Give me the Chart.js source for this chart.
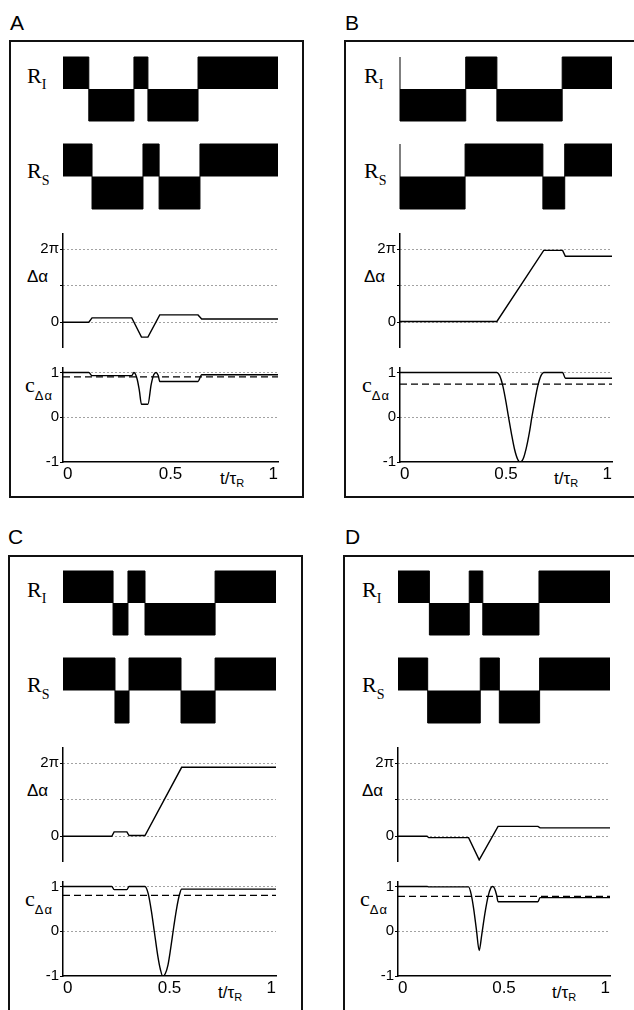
<!DOCTYPE html>
<html>
<head>
<meta charset="utf-8">
<script src="https://cdn.jsdelivr.net/npm/chart.js@4.4.1/dist/chart.umd.min.js"></script>
<style>
  body { margin: 0; background: #fff; }
  #fig { position: relative; width: 634px; height: 1010px; overflow: hidden; background: #fff; }
  #fig canvas { position: absolute; }
  .box { position: absolute; border: 2px solid #111; box-sizing: border-box; }
  .lbl { position: absolute; line-height: 1; white-space: nowrap; color: #000; }
  .sans { font-family: "Liberation Sans", Arial, sans-serif; }
  .serif { font-family: "Liberation Serif", "Times New Roman", serif; }
  .sub { position: relative; }
</style>
</head>
<body>
<div id="fig"></div>
<script>
// switching times (t/tau_R) of the two rotations R_I and R_S, state after each switch
const riTimesA = [0, 0.12, 0.33, 0.395, 0.628];
const rsTimesA = [0, 0.135, 0.372, 0.447, 0.637];
const riTimesB = [0, 0, 0.31, 0.457, 0.765];
const rsTimesB = [0, 0, 0.307, 0.674, 0.777];
const riTimesC = [0, 0.235, 0.305, 0.385, 0.714];
const rsTimesC = [0, 0.244, 0.31, 0.554, 0.714];
const riTimesD = [0, 0.148, 0.336, 0.40, 0.665];
const rsTimesD = [0, 0.14, 0.388, 0.478, 0.668];
const stepStates = [1, -1, 1, -1, 1];

// phase difference delta alpha, in units of pi
const daTimeA = [0, 0.12, 0.135, 0.32, 0.365, 0.395, 0.45, 0.628, 0.645, 1];
const daValA  = [0, 0, 0.12, 0.12, -0.41, -0.41, 0.2, 0.2, 0.09, 0.09];
const daTimeB = [0, 0.457, 0.678, 0.767, 0.78, 1];
const daValB  = [0.02, 0.02, 1.97, 1.97, 1.81, 1.81];
const daTimeC = [0, 0.229, 0.24, 0.3, 0.31, 0.385, 0.557, 1];
const daValC  = [0, 0, 0.12, 0.12, 0.02, 0.02, 1.89, 1.89];
const daTimeD = [0, 0.137, 0.145, 0.333, 0.383, 0.472, 0.66, 0.67, 1];
const daValD  = [0, 0, -0.04, -0.04, -0.65, 0.27, 0.27, 0.23, 0.23];

// c_delta alpha
const cTimeA = [0, 0.12, 0.135, 0.32, 0.33, 0.345, 0.355, 0.365, 0.395, 0.41, 0.422, 0.433, 0.443, 0.45, 0.628, 0.645, 1];
const cValA  = [1, 1, 0.93, 0.93, 1, 0.85, 0.6, 0.29, 0.29, 0.73, 0.95, 1, 0.93, 0.8, 0.8, 0.95, 0.95];
const cTimeB = [0, 0.457, 0.47, 0.485, 0.5, 0.512, 0.525, 0.54, 0.555, 0.566, 0.58, 0.595, 0.61, 0.622, 0.635, 0.65, 0.665, 0.678, 0.767, 0.78, 1];
const cValB  = [1, 1, 0.93, 0.7, 0.34, 0, -0.35, -0.71, -0.94, -1, -0.94, -0.7, -0.35, 0, 0.34, 0.7, 0.93, 1, 1, 0.87, 0.87];
const cTimeC = [0, 0.229, 0.24, 0.3, 0.31, 0.385, 0.4, 0.415, 0.43, 0.445, 0.457, 0.468, 0.48, 0.493, 0.505, 0.52, 0.535, 0.547, 0.557, 1];
const cValC  = [1, 1, 0.93, 0.93, 1, 1, 0.84, 0.45, -0.05, -0.55, -0.85, -1, -0.95, -0.75, -0.4, 0.1, 0.55, 0.82, 0.94, 0.94];
const cTimeD = [0, 0.137, 0.145, 0.333, 0.345, 0.357, 0.37, 0.383, 0.395, 0.41, 0.425, 0.438, 0.446, 0.455, 0.465, 0.472, 0.66, 0.67, 1];
const cValD  = [1, 1, 0.99, 0.99, 0.83, 0.5, 0.03, -0.43, -0.08, 0.4, 0.78, 0.97, 1, 0.96, 0.81, 0.66, 0.66, 0.75, 0.75];
const cMean = [0.9, 0.74, 0.8, 0.78];

const panelNames = ["A", "B", "C", "D"];
const daTicks = [0, 1, 2];
const daTickLabels = ["0", "", "2\u03c0"];
const cTicks = [-1, 0, 1];
const cTickLabels = ["-1", "0", "1"];
const tTicks = [0, 0.5, 1];
const tTickLabels = ["0", "0.5", "1"];

const riTimes = [riTimesA, riTimesB, riTimesC, riTimesD];
const rsTimes = [rsTimesA, rsTimesB, rsTimesC, rsTimesD];
const daTimes = [daTimeA, daTimeB, daTimeC, daTimeD];
const daVals = [daValA, daValB, daValC, daValD];
const cTimes = [cTimeA, cTimeB, cTimeC, cTimeD];
const cVals = [cValA, cValB, cValC, cValD];

// page layout (pixels)
const frames = [
  { x0: 63, x1: 278, oy: 0, box: [9, 39.5, 295, 458], letterX: 10 },
  { x0: 400, x1: 612, oy: 0, box: [344, 39.5, 300, 458], letterX: 345 },
  { x0: 63, x1: 276, oy: 514, box: [7.5, 555, 295, 470], letterX: 8 },
  { x0: 398, x1: 610, oy: 514, box: [343, 555, 300, 470], letterX: 345 }
];
const RI_ROW = [57, 121];
const RS_ROW = [143.5, 208.5];
const DA_ZERO = 322.5, DA_PX = 36.5, DA_MIN = -0.68, DA_MAX = 2.42;
const C_ONE = 372, C_PX = 44.75, C_MIN = -1, C_MAX = 1.1;
const YW = 40, PAD = 12, RP = 6, XH = 30;

Chart.defaults.font.family = '"Liberation Sans", Arial, sans-serif';
Chart.defaults.color = "#000";

const fig = document.getElementById("fig");

function makeCanvas(left, top, width, height) {
  const cv = document.createElement("canvas");
  cv.width = Math.round(width);
  cv.height = Math.round(height);
  cv.style.left = Math.round(left) + "px";
  cv.style.top = Math.round(top) + "px";
  cv.style.width = cv.width + "px";
  cv.style.height = cv.height + "px";
  fig.appendChild(cv);
  return cv;
}

function addLabel(html, cls, left, top, size) {
  const el = document.createElement("div");
  el.className = "lbl " + cls;
  el.style.left = left + "px";
  el.style.top = top + "px";
  el.style.fontSize = size + "px";
  el.innerHTML = html;
  fig.appendChild(el);
}

function stepPoints(times) {
  const pts = times.map((t, i) => ({ x: t, y: stepStates[i] }));
  pts.push({ x: 1, y: stepStates[stepStates.length - 1] });
  return pts;
}

function pairPoints(ts, vs) {
  return ts.map((t, i) => ({ x: t, y: vs[i] }));
}

const baseOptions = {
  responsive: false,
  animation: false,
  events: [],
  plugins: { legend: { display: false }, tooltip: { enabled: false } }
};

function drawSteps(f, row, times) {
  const top = Math.round(f.oy + row[0]);
  const bottom = Math.round(f.oy + row[1]);
  const pad = 2;
  const cv = makeCanvas(f.x0 - pad, top - pad, f.x1 - f.x0 + 2 * pad, bottom - top + 2 * pad);
  new Chart(cv, {
    type: "line",
    data: {
      datasets: [{
        data: stepPoints(times),
        stepped: "before",
        fill: "origin",
        backgroundColor: "#000",
        borderColor: "#000",
        borderWidth: 1,
        pointRadius: 0,
        clip: false
      }]
    },
    options: {
      ...baseOptions,
      layout: { padding: pad },
      scales: {
        x: { type: "linear", min: 0, max: 1, display: false },
        y: { min: -1, max: 1, display: false }
      }
    }
  });
}

function drawPhase(f, ts, vs) {
  const top = Math.round(f.oy + DA_ZERO - DA_MAX * DA_PX);
  const bottom = Math.round(f.oy + DA_ZERO - DA_MIN * DA_PX);
  const cv = makeCanvas(f.x0 - YW, top - PAD, f.x1 - f.x0 + YW + RP, bottom - top + 2 * PAD);
  new Chart(cv, {
    type: "line",
    data: {
      datasets: [{
        data: pairPoints(ts, vs),
        borderColor: "#000",
        borderWidth: 1.4,
        pointRadius: 0,
        tension: 0
      }]
    },
    options: {
      ...baseOptions,
      layout: { padding: { left: 0, right: RP, top: PAD, bottom: PAD } },
      scales: {
        x: { type: "linear", min: 0, max: 1, display: false },
        y: {
          min: DA_MIN,
          max: DA_MAX,
          afterFit: s => { s.width = YW; },
          afterBuildTicks: s => { s.ticks = daTicks.map(v => ({ value: v })); },
          ticks: {
            padding: 1,
            font: { size: 15 },
            color: "#000",
            callback: (v, i) => daTickLabels[i]
          },
          grid: { color: "#444", lineWidth: 1, tickLength: 3, tickColor: "#000" },
          border: { display: true, color: "#000", width: 1.5, dash: [1, 3] }
        }
      }
    }
  });
}

function drawCoherence(f, ts, vs, mean) {
  const top = Math.round(f.oy + C_ONE - (C_MAX - 1) * C_PX);
  const bottom = Math.round(f.oy + C_ONE - (C_MIN - 1) * C_PX);
  const cv = makeCanvas(f.x0 - YW, top - PAD, f.x1 - f.x0 + YW + RP, bottom - top + PAD + XH);
  new Chart(cv, {
    type: "line",
    data: {
      datasets: [
        {
          data: pairPoints(ts, vs),
          borderColor: "#000",
          borderWidth: 1.4,
          pointRadius: 0,
          cubicInterpolationMode: "monotone"
        },
        {
          data: [{ x: 0, y: mean }, { x: 1, y: mean }],
          borderColor: "#000",
          borderWidth: 1.2,
          borderDash: [7, 4],
          pointRadius: 0
        }
      ]
    },
    options: {
      ...baseOptions,
      layout: { padding: { left: 0, right: RP, top: PAD, bottom: 0 } },
      scales: {
        x: {
          type: "linear",
          min: 0,
          max: 1,
          afterFit: s => { s.height = XH; },
          afterBuildTicks: s => { s.ticks = tTicks.map(v => ({ value: v })); },
          ticks: {
            padding: 2,
            align: "inner",
            maxRotation: 0,
            font: { size: 17 },
            color: "#000",
            callback: (v, i) => tTickLabels[i]
          },
          grid: { display: false, drawTicks: false },
          border: { display: true, color: "#000", width: 1.5 }
        },
        y: {
          min: C_MIN,
          max: C_MAX,
          afterFit: s => { s.width = YW; },
          afterBuildTicks: s => { s.ticks = cTicks.map(v => ({ value: v })); },
          ticks: {
            padding: 1,
            font: { size: 15 },
            color: "#000",
            callback: (v, i) => cTickLabels[i]
          },
          grid: {
            color: c => (c.tick && c.tick.value === -1 ? "rgba(0,0,0,0)" : "#444"),
            lineWidth: 1,
            tickLength: 3,
            tickColor: "#000"
          },
          border: { display: true, color: "#000", width: 1.5, dash: [1, 3] }
        }
      }
    }
  });
}

frames.forEach((f, k) => {
  const b = document.createElement("div");
  b.className = "box";
  b.style.left = f.box[0] + "px";
  b.style.top = f.box[1] + "px";
  b.style.width = f.box[2] + "px";
  b.style.height = f.box[3] + "px";
  fig.appendChild(b);

  addLabel(panelNames[k], "sans", f.letterX, f.oy + 12.2, 21);
  addLabel('R<span class="sub" style="font-size:14px;top:6px">I</span>', "serif", f.x0 - 36, f.oy + 64.6, 22);
  addLabel('R<span class="sub" style="font-size:14px;top:7px">S</span>', "serif", f.x0 - 36, f.oy + 159.6, 22);
  addLabel("\u0394\u03b1", "sans", f.x0 - 36, f.oy + 267.6, 17);
  addLabel('c<span class="sub sans" style="font-size:13px;top:8px;letter-spacing:1px">\u0394\u03b1</span>', "serif", f.x0 - 38, f.oy + 373.6, 22);
  addLabel('t/\u03c4<span class="sub" style="font-size:11px;top:3px">R</span>', "sans", f.x1 - 58, f.oy + 469.6, 17);

  drawSteps(f, RI_ROW, riTimes[k]);
  drawSteps(f, RS_ROW, rsTimes[k]);
  drawPhase(f, daTimes[k], daVals[k]);
  drawCoherence(f, cTimes[k], cVals[k], cMean[k]);
});
</script>
</body>
</html>
